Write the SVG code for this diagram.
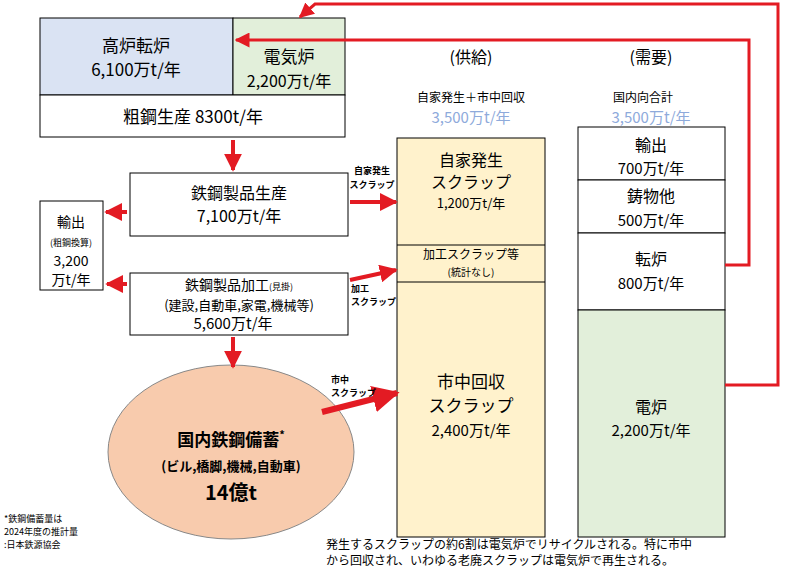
<svg xmlns="http://www.w3.org/2000/svg" width="790" height="586" viewBox="0 0 790 586">
<style>
text{font-family:"Noto Sans CJK JP","Liberation Sans",sans-serif;fill:#000;text-anchor:middle}
.b{stroke:#000;stroke-width:1}
.r{stroke:#e31b23;fill:none}
.s{font-size:9px;font-weight:bold}
</style>
<defs>
<marker id="a" viewBox="0 0 10 10" refX="9" refY="5" markerWidth="4.5" markerHeight="4.5" orient="auto" markerUnits="strokeWidth"><path d="M0,0L10,5L0,10z" fill="#e31b23"/></marker>
<marker id="a2" viewBox="0 0 10 10" refX="9" refY="5" markerWidth="5" markerHeight="5" orient="auto" markerUnits="strokeWidth"><path d="M0,0L10,5L0,10z" fill="#e31b23"/></marker>
</defs>
<rect width="790" height="586" fill="#fff"/>
<g id="top">
<rect x="40" y="18" width="193" height="77" fill="#dae3f3" class="b"/>
<rect x="233" y="18" width="112" height="77" fill="#e2efda" class="b"/>
<rect x="40" y="95" width="305" height="42" fill="#fff" class="b"/>
<text x="136" y="52" font-size="17">高炉転炉</text>
<text x="136" y="76" font-size="17">6,100万t/年</text>
<text x="289" y="63" font-size="17">電気炉</text>
<text x="289" y="87" font-size="16">2,200万t/年</text>
<text x="193" y="123" font-size="17">粗鋼生産  8300t/年</text>
</g>
<g id="prod">
<rect x="130" y="173" width="218" height="63" fill="#fff" class="b"/>
<text x="239" y="199" font-size="16">鉄鋼製品生産</text>
<text x="239" y="222" font-size="16">7,100万t/年</text>
</g>
<g id="export">
<rect x="40" y="201" width="63" height="89" fill="#fff" class="b"/>
<text x="71" y="227" font-size="14">輸出</text>
<text x="71" y="246" font-size="9">(粗鋼換算)</text>
<text x="71" y="266" font-size="14">3,200</text>
<text x="71" y="285" font-size="14">万t/年</text>
</g>
<g id="proc">
<rect x="130" y="273" width="218" height="62" fill="#fff" class="b"/>
<text x="239" y="290" font-size="14">鉄鋼製品加工<tspan font-size="9">(見掛)</tspan></text>
<text x="239" y="310" font-size="13">(建設,自動車,家電,機械等)</text>
<text x="233" y="329" font-size="15">5,600万t/年</text>
</g>
<g id="stock">
<ellipse cx="231" cy="452" rx="123" ry="87" fill="#f8cbad" stroke="#888"/>
<text x="231" y="446" font-size="17" font-weight="bold">国内鉄鋼備蓄<tspan font-size="11" dy="-7">*</tspan></text>
<text x="231" y="471" font-size="13" font-weight="bold">(ビル,橋脚,機械,自動車)</text>
<text x="231" y="500" font-size="20" font-weight="bold">14億t</text>
</g>
<g id="supply">
<text x="471" y="63" font-size="16">(供給)</text>
<text x="471" y="102" font-size="12">自家発生＋市中回収</text>
<text x="471" y="123" font-size="15" style="fill:#8eaadb">3,500万t/年</text>
<rect x="397" y="138" width="148" height="399" fill="#fff2cc" class="b"/>
<line x1="397" y1="245" x2="545" y2="245" class="b"/>
<line x1="397" y1="282" x2="545" y2="282" class="b"/>
<text x="471" y="166" font-size="16">自家発生</text>
<text x="471" y="188" font-size="16">スクラップ</text>
<text x="471" y="208" font-size="13">1,200万t/年</text>
<text x="471" y="259" font-size="12">加工スクラップ等</text>
<text x="471" y="276" font-size="10">(統計なし)</text>
<text x="471" y="388" font-size="17">市中回収</text>
<text x="471" y="412" font-size="17">スクラップ</text>
<text x="471" y="436" font-size="15">2,400万t/年</text>
</g>
<g id="demand">
<text x="651" y="63" font-size="16">(需要)</text>
<text x="643" y="102" font-size="12">国内向合計</text>
<text x="651" y="123" font-size="15" style="fill:#8eaadb">3,500万t/年</text>
<rect x="578" y="127" width="147" height="53" fill="#fff" class="b"/>
<rect x="578" y="180" width="147" height="53" fill="#fff" class="b"/>
<rect x="578" y="233" width="147" height="77" fill="#fff" class="b"/>
<rect x="578" y="310" width="147" height="227" fill="#e2efda" class="b"/>
<text x="651" y="151" font-size="16">輸出</text>
<text x="651" y="174" font-size="15">700万t/年</text>
<text x="651" y="202" font-size="16">鋳物他</text>
<text x="651" y="226" font-size="15">500万t/年</text>
<text x="651" y="265" font-size="16">転炉</text>
<text x="651" y="289" font-size="15">800万t/年</text>
<text x="651" y="413" font-size="16">電炉</text>
<text x="651" y="436" font-size="15">2,200万t/年</text>
</g>
<g id="connectors" class="r">
<line x1="233" y1="140" x2="233" y2="170" stroke-width="4" marker-end="url(#a)"/>
<line x1="233" y1="337" x2="233" y2="367" stroke-width="4" marker-end="url(#a)"/>
<line x1="127" y1="212" x2="106" y2="212" stroke-width="4" marker-end="url(#a)"/>
<line x1="127" y1="284" x2="107" y2="284" stroke-width="4" marker-end="url(#a)"/>
<line x1="350" y1="202" x2="396" y2="202" stroke-width="4" marker-end="url(#a)"/>
<line x1="350" y1="280" x2="396" y2="270" stroke-width="4" marker-end="url(#a)"/>
<line x1="322" y1="412" x2="397" y2="393" stroke-width="6" marker-end="url(#a)"/>
<polyline points="725,265 749,265 749,40 236,40" stroke-width="3" marker-end="url(#a2)"/>
<polyline points="725,385 778,385 778,4 315,4 300,17" stroke-width="3" marker-end="url(#a2)"/>
</g>
<g id="labels">
<text x="372" y="174" class="s">自家発生</text>
<text x="372" y="188" class="s">スクラップ</text>
<text x="351" y="292" class="s" style="text-anchor:start">加工</text>
<text x="351" y="305" class="s" style="text-anchor:start">スクラップ</text>
<text x="331" y="383" class="s" style="text-anchor:start">市中</text>
<text x="331" y="396" class="s" style="text-anchor:start">スクラップ</text>
<text x="4" y="522" font-size="9" style="text-anchor:start">*鉄鋼備蓄量は</text>
<text x="4" y="535" font-size="9" style="text-anchor:start">2024年度の推計量</text>
<text x="4" y="548" font-size="9" style="text-anchor:start">:日本鉄源協会</text>
<text x="326" y="549" font-size="12" style="text-anchor:start">発生するスクラップの約6割は電気炉でリサイクルされる。特に市中</text>
<text x="326" y="565" font-size="12" style="text-anchor:start">から回収され、いわゆる老廃スクラップは電気炉で再生される。</text>
</g>
</svg>
